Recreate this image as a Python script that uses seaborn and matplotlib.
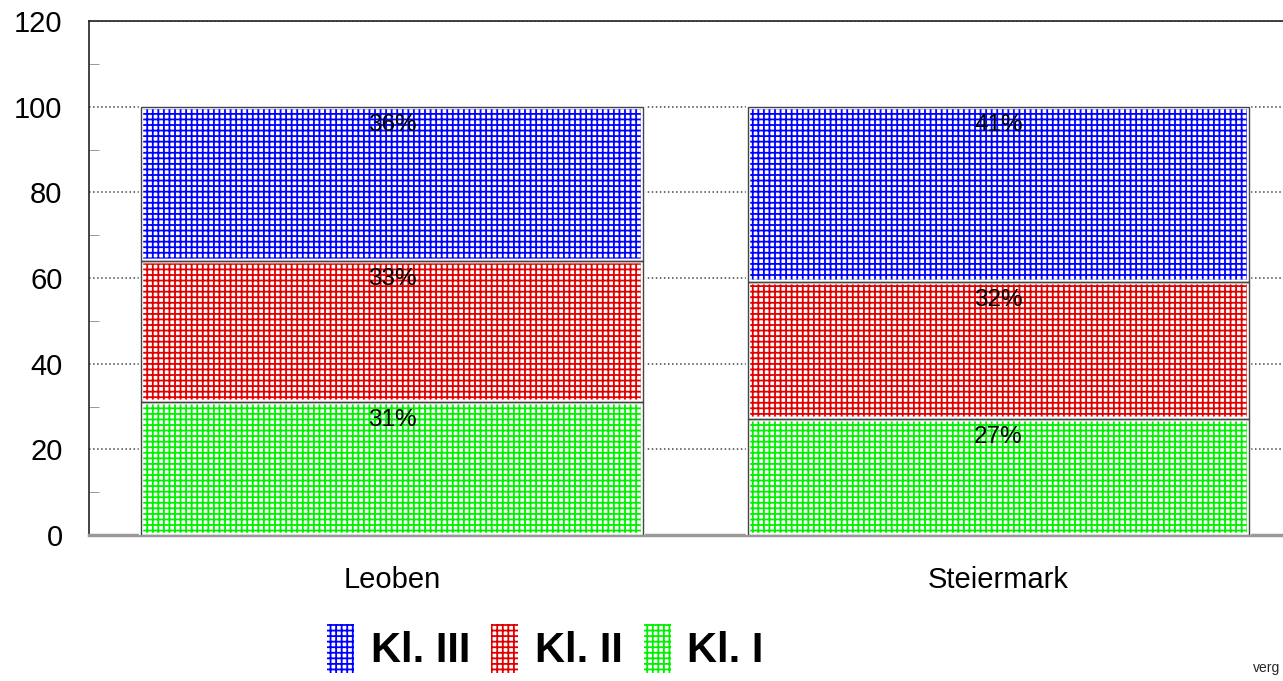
import matplotlib.pyplot as plt
import matplotlib.patches as mpatches
import seaborn as sns
import pandas as pd

# Werte aus dem Diagramm (Prozent)
kategorien = ["Leoben", "Steiermark"]
kl_i = [31, 27]
kl_ii = [33, 32]
kl_iii = [36, 41]
klassen = ["Kl. III", "Kl. II", "Kl. I"]
farben = {"Kl. I": "#00f000", "Kl. II": "#e00000", "Kl. III": "#0000ff"}

df = pd.DataFrame({"Region": kategorien, "Kl. I": kl_i, "Kl. II": kl_ii, "Kl. III": kl_iii})

sns.set_style("white")
plt.rcParams['font.family'] = ['Liberation Sans', 'DejaVu Sans']
plt.rcParams['hatch.linewidth'] = 1.3

fig = plt.figure(figsize=(12.83, 6.81), dpi=100)
ax = fig.add_axes([89 / 1283, 146 / 681, 1212.5 / 1283, 514 / 681])

# gestapelte Balken
unten = [0, 0]
for kl in ["Kl. I", "Kl. II", "Kl. III"]:
    n_vorher = len(ax.patches)
    sns.barplot(data=df, x="Region", y=kl, bottom=unten, width=0.827,
                color=farben[kl], ax=ax, zorder=2)
    neue = ax.patches[n_vorher:]
    for p, wert in zip(neue, df[kl]):
        p.set_facecolor("white")
        p.set_edgecolor(farben[kl])
        p.set_hatch("+++")
        p.set_linewidth(0)
        # weisser Spalt zwischen den Segmenten, darauf die Kontur
        ax.add_patch(mpatches.Rectangle(p.get_xy(), p.get_width(), p.get_height(),
                                        fill=False, edgecolor="white", lw=3.2, zorder=3))
        ax.add_patch(mpatches.Rectangle(p.get_xy(), p.get_width(), p.get_height(),
                                        fill=False, edgecolor="#444444", lw=1.0, zorder=3.1))
        ax.annotate(f"{wert}%", (p.get_x() + p.get_width() / 2, p.get_y() + p.get_height()),
                    xytext=(0, -13), textcoords="offset points", ha="center", va="center",
                    fontsize=17.5, color="black", zorder=4)
    unten = [u + w for u, w in zip(unten, df[kl])]

ax.set_ylim(0, 120)
ax.set_xlim(-0.5, 1.5)
ax.set_yticks([0, 20, 40, 60, 80, 100, 120])
ax.set_yticks([10, 30, 50, 70, 90, 110], minor=True)
ax.tick_params(axis="y", which="major", labelsize=21, length=0, pad=19, labelcolor="black")
ax.tick_params(axis="y", which="minor", direction="in", length=7, color="#888888", left=True)
ax.tick_params(axis="x", labelsize=21, length=3, direction="in", pad=22, bottom=True,
               color="#888888", labelcolor="black")
ax.set_xlabel("")
ax.set_ylabel("")

ax.yaxis.grid(True, linestyle=":", color="#444444", lw=1.1, zorder=0)
ax.set_axisbelow(True)
for s in ["left", "top"]:
    ax.spines[s].set_color("#222222")
    ax.spines[s].set_linewidth(1.2)
ax.spines["bottom"].set_color("#999999")
ax.spines["bottom"].set_linewidth(2.5)
ax.spines["right"].set_visible(False)

# Legende
griffe = [mpatches.Patch(facecolor="white", edgecolor=farben[k], hatch="+++", lw=0) for k in klassen]
fig.legend(handles=griffe, labels=klassen, loc="upper left", bbox_to_anchor=(0.255, 0.083),
           ncol=3, frameon=False, handlelength=0.65, handleheight=1.4, handletextpad=0.4,
           columnspacing=0.5, borderpad=0, borderaxespad=0, labelcolor="black",
           prop={"family": "Liberation Sans", "weight": "bold", "size": 30})

fig.text(1253 / 1283, 6 / 681, "verg", fontsize=10, ha="left", va="bottom")

plt.savefig("out.png", dpi=100)
plt.close()
